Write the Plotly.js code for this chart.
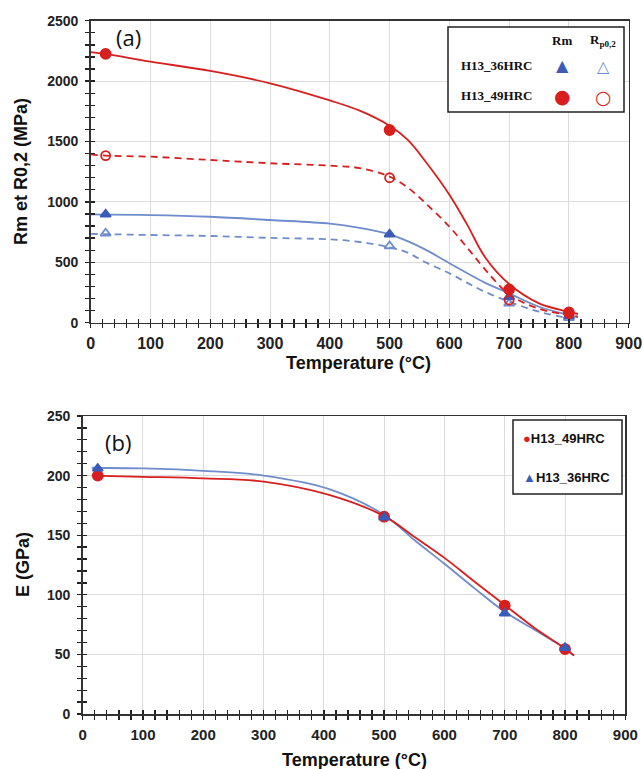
<!DOCTYPE html>
<html>
<head>
<meta charset="utf-8">
<script src="https://cdn.plot.ly/plotly-3.0.1.min.js"></script>
<style>html,body{margin:0;padding:0;background:#fff;}#chart{width:643px;height:769px;}</style>
</head>
<body>
<div id="chart"></div>
<script>
// ---------- data: panel (a) ----------
const tempPts = [25, 500, 700, 800];
const rm49 = [2225, 1595, 276, 86];
const rp49 = [1383, 1200, 188, 75];
const rm36 = [897, 732, 215, 55];
const rp36 = [740, 635, 160, 40];
// fitted curves
const curveTa = [0, 25, 100, 200, 300, 400, 450, 500, 530, 560, 600, 630, 660, 700, 750, 800, 815];
const rm49Curve = [2240, 2225, 2161, 2084, 1982, 1840, 1755, 1630, 1515, 1335, 1060, 810, 540, 320, 160, 90, 72];
const rp49Curve = [1394, 1383, 1374, 1347, 1320, 1300, 1280, 1209, 1120, 990, 795, 620, 440, 235, 115, 64, 50];
const rm36Curve = [897, 895, 891, 877, 850, 820, 785, 732, 675, 605, 492, 410, 330, 243, 132, 64, 45];
const rp36Curve = [735, 733, 726, 718, 702, 690, 668, 625, 580, 500, 409, 330, 255, 174, 91, 36, 25];
// ---------- data: panel (b) ----------
const e49 = [200, 165.5, 91, 54.5];
const e36 = [206, 165, 84.5, 55.5];
const curveTb = [15, 100, 200, 300, 410, 500, 550, 600, 650, 700, 750, 800, 815];
const e49Curve = [200, 199, 197.7, 195, 183.7, 166, 148.7, 131, 111, 91.4, 71.9, 55, 49];
const e36Curve = [206.6, 206, 204, 200, 188.5, 167, 146, 126, 105.4, 85.8, 70.5, 55, 49];
// ---------- labels ----------
const seriesNames = ['H13_36HRC', 'H13_49HRC'];
const xTitle = 'Temperature (°C)';
const yTitleA = 'Rm et R0,2 (MPa)';
const yTitleB = 'E (GPa)';

const W = 643, H = 769;
const px = x => x / W;
const py = y => 1 - y / H;
const RED = '#d81e1e';
const BLUE = '#3a5cb8';
const BLUE_L = '#6f8ccc';
const DASH = '7px,5px';
const TICK = '#222';
const TW = 1.3;
const EPS = 1e-3;

function line(x, y, color, dash, xa, ya) {
  return {x: x, y: y, mode: 'lines', xaxis: xa, yaxis: ya, showlegend: false, hoverinfo: 'skip',
    line: {color: color, width: 1.8, shape: 'spline', smoothing: 1, dash: dash || 'solid'}};
}
function pts(x, y, symbol, color, size, xa, ya) {
  return {x: x, y: y, mode: 'markers', xaxis: xa, yaxis: ya, showlegend: false, hoverinfo: 'skip',
    marker: {symbol: symbol, size: size, color: color, line: {color: color, width: 1.8}}};
}

const data = [
  line(curveTa, rp36Curve, BLUE_L, DASH, 'x', 'y'),
  line(curveTa, rm36Curve, BLUE_L, null, 'x', 'y'),
  line(curveTa, rp49Curve, RED, DASH, 'x', 'y'),
  line(curveTa, rm49Curve, RED, null, 'x', 'y'),
  pts(tempPts, rp36, 'triangle-up-open', BLUE_L, 9, 'x', 'y'),
  pts(tempPts, rm36, 'triangle-up', BLUE, 9, 'x', 'y'),
  pts(tempPts, rp49, 'circle-open', RED, 9, 'x', 'y'),
  pts(tempPts, rm49, 'circle', RED, 10, 'x', 'y'),
  line(curveTb, e36Curve, BLUE_L, null, 'x2', 'y2'),
  line(curveTb, e49Curve, RED, null, 'x2', 'y2'),
  pts(tempPts, e49, 'circle', RED, 10, 'x2', 'y2'),
  pts(tempPts, e36, 'triangle-up', BLUE, 9, 'x2', 'y2'),
  {x: [], y: [], xaxis: 'x3', yaxis: 'y3', showlegend: false, hoverinfo: 'skip'},
  {x: [], y: [], xaxis: 'x4', yaxis: 'y4', showlegend: false, hoverinfo: 'skip'}
];

const tickFontXA = {family: 'Liberation Sans, Arial, sans-serif', size: 16, color: '#222', weight: 'bold'};
const tickFontXB = {family: 'Liberation Sans, Arial, sans-serif', size: 15, color: '#222', weight: 'bold'};
const tickFontY = {family: 'Liberation Sans, Arial, sans-serif', size: 14, color: '#222', weight: 'bold'};

function mainX(domain, anchor, font) {
  return {domain: domain, anchor: anchor, range: [-EPS, 900 + EPS], dtick: 100, tick0: 0, automargin: false,
    showline: true, mirror: true, linecolor: '#333', linewidth: 1.5,
    ticks: 'outside', ticklen: 4, tickwidth: TW, tickcolor: TICK,
    minor: {dtick: 20, ticks: 'outside', ticklen: 4, tickwidth: TW, tickcolor: TICK, showgrid: false},
    showgrid: true, gridcolor: '#dcdcdc', gridwidth: 1, zeroline: false,
    tickfont: font, ticklabelstandoff: 2, ticklabeloverflow: 'allow', fixedrange: true};
}
function mainY(domain, anchor, top, dtick, minor) {
  return {domain: domain, anchor: anchor, range: [-EPS, top + EPS], dtick: dtick, tick0: 0, automargin: false,
    showline: true, mirror: true, linecolor: '#333', linewidth: 1.5,
    ticks: 'outside', ticklen: 4, tickwidth: TW, tickcolor: TICK,
    minor: {dtick: minor, ticks: 'outside', ticklen: 4, tickwidth: TW, tickcolor: TICK, showgrid: false},
    showgrid: true, gridcolor: '#dcdcdc', gridwidth: 1, zeroline: false,
    tickfont: tickFontY, ticklabelstandoff: 4, ticklabeloverflow: 'allow', fixedrange: true};
}
function overlayAx(over, anchor, top, dtick, minor) {
  return {overlaying: over, anchor: anchor, range: [-EPS, top + EPS], dtick: dtick, tick0: 0, automargin: false,
    showline: false, showgrid: false, zeroline: false, showticklabels: false,
    ticks: 'inside', ticklen: 4, tickwidth: TW, tickcolor: TICK,
    minor: {dtick: minor, ticks: 'inside', ticklen: 4, tickwidth: TW, tickcolor: TICK, showgrid: false},
    fixedrange: true};
}

const titleFont = {family: 'Liberation Sans, Arial, sans-serif', size: 18, color: '#111', weight: 'bold'};
const serifFont = {family: 'Liberation Serif, Times New Roman, serif', size: 13, color: '#111', weight: 'bold'};
const legFont = {family: 'Liberation Sans, Arial, sans-serif', size: 13, color: '#111', weight: 'bold'};
const panelFont = {family: 'Open Sans, Noto Sans, sans-serif', size: 22, color: '#111'};

function ann(text, x, y, font, extra) {
  return Object.assign({text: text, x: px(x), y: py(y), xref: 'paper', yref: 'paper',
    showarrow: false, xanchor: 'center', yanchor: 'middle', font: font}, extra || {});
}

const annotations = [
  ann('(a)', 128, 37, panelFont),
  ann('(b)', 118, 442, panelFont),
  ann(xTitle, 358, 363, titleFont),
  ann(yTitleA, 21, 172, titleFont, {textangle: -90}),
  ann(xTitle, 354, 760, titleFont),
  ann(yTitleB, 23, 565, titleFont, {textangle: -90}),
  // legend (a)
  ann('Rm', 562, 40, serifFont),
  ann('R<sub>p0,2</sub>', 603, 40, serifFont),
  ann(seriesNames[0], 497, 66, serifFont),
  ann(seriesNames[1], 497, 96, serifFont),
  ann('▲', 562, 66, {family: 'DejaVu Sans', size: 16, color: BLUE}),
  ann('△', 603, 67, {family: 'DejaVu Sans', size: 16, color: BLUE_L}),
  ann('●', 562, 96, {family: 'DejaVu Sans', size: 19, color: RED}),
  ann('○', 603, 97, {family: 'DejaVu Sans', size: 19, color: RED}),
  // legend (b)
  ann('<span style="color:' + RED + '">●</span>' + seriesNames[1], 521, 439, legFont, {xanchor: 'left'}),
  ann('<span style="color:' + BLUE + '">▲</span>' + seriesNames[0], 521, 477, legFont, {xanchor: 'left'})
];

const shapes = [
  {type: 'rect', xref: 'paper', yref: 'paper', x0: px(448), x1: px(624), y0: py(27), y1: py(112),
    line: {color: '#222', width: 1.5}, fillcolor: 'rgba(255,255,255,1)', layer: 'above'},
  {type: 'rect', xref: 'paper', yref: 'paper', x0: px(513), x1: px(622), y0: py(420), y1: py(494),
    line: {color: '#222', width: 1.5}, fillcolor: 'rgba(255,255,255,1)', layer: 'above'}
];

const layout = {
  width: W, height: H,
  margin: {l: 0, r: 0, t: 0, b: 0, pad: 0},
  paper_bgcolor: '#fff', plot_bgcolor: '#fff',
  showlegend: false,
  xaxis: mainX([px(90.7), px(628.7)], 'y', tickFontXA),
  yaxis: mainY([py(322.7), py(20.7)], 'x', 2500, 500, 100),
  xaxis2: mainX([px(82.7), px(625.3)], 'y2', tickFontXB),
  yaxis2: mainY([py(714), py(416)], 'x2', 250, 50, 10),
  xaxis3: overlayAx('x', 'y3', 900, 100, 20),
  yaxis3: overlayAx('y', 'x3', 2500, 500, 100),
  xaxis4: overlayAx('x2', 'y4', 900, 100, 20),
  yaxis4: overlayAx('y2', 'x4', 250, 50, 10),
  annotations: annotations,
  shapes: shapes
};

Plotly.newPlot('chart', data, layout, {staticPlot: true, displayModeBar: false});
</script>
</body>
</html>
